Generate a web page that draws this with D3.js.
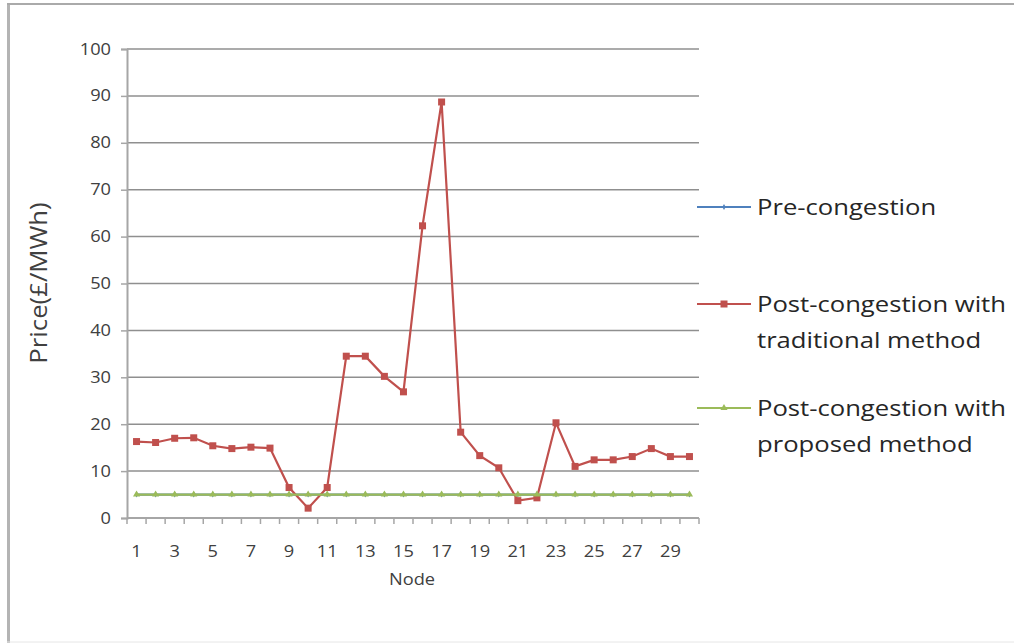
<!DOCTYPE html>
<html>
<head>
<meta charset="utf-8">
<script src="https://cdn.jsdelivr.net/npm/d3@7"></script>
<style>
  html, body { margin: 0; padding: 0; background: #fff; }
  svg { display: block; font-family: "Open Sans", "Noto Sans", sans-serif; }
</style>
</head>
<body>
<svg id="chart" width="1014" height="643"></svg>
<script>
// Nodal prices (£/MWh) for a 30-node system
const nodes = d3.range(1, 31);
const preCongestion = [5,5,5,5,5,5,5,5,5,5,5,5,5,5,5,5,5,5,5,5,5,5,5,5,5,5,5,5,5,5];
const traditional = [16.3,16.1,17.0,17.1,15.4,14.8,15.1,14.9,6.5,2.1,6.5,34.5,34.5,30.2,26.9,62.3,88.7,18.3,13.3,10.7,3.7,4.3,20.3,11.0,12.4,12.4,13.1,14.8,13.1,13.1];
const proposed = [5,5,5,5,5,5,5,5,5,5,5,5,5,5,5,5,5,5,5,5,5,5,5,5,5,5,5,5,5,5];
const yTicks = [0,10,20,30,40,50,60,70,80,90,100];
const seriesNames = ["Pre-congestion", "Post-congestion with traditional method", "Post-congestion with proposed method"];
const legendLines = [["Pre-congestion"], ["Post-congestion with", "traditional method"], ["Post-congestion with", "proposed method"]];

const svg = d3.select("#chart");
const plot = { left: 127, right: 699, top: 49, bottom: 518 };
const stretch = 1.14; // horizontal widening applied to all labels

// Outer frame
svg.append("line").attr("x1", 8.5).attr("x2", 8.5).attr("y1", 3).attr("y2", 643)
  .attr("stroke", "#b4b4b4").attr("stroke-width", 3);
svg.append("line").attr("x1", 7).attr("x2", 1014).attr("y1", 4).attr("y2", 4)
  .attr("stroke", "#aaaaaa").attr("stroke-width", 2);
svg.append("line").attr("x1", 7).attr("x2", 1014).attr("y1", 642).attr("y2", 642)
  .attr("stroke", "#e6e6e6").attr("stroke-width", 1);

const x = d3.scaleBand().domain(nodes).range([plot.left, plot.right]);
const y = d3.scaleLinear().domain([0, 100]).range([plot.bottom, plot.top]);
const cx = d => x(d) + x.bandwidth() / 2;

// Places a label at (px, py) with the horizontal widening
function label(g, px, py, txt, size, anchor, fill) {
  return g.append("text")
    .attr("transform", `translate(${px},${py}) scale(${stretch},1)`)
    .attr("text-anchor", anchor).attr("font-size", size).attr("fill", fill)
    .text(txt);
}

// Horizontal gridlines
svg.append("g").selectAll("line").data(yTicks.filter(t => t > 0)).join("line")
  .attr("x1", plot.left).attr("x2", plot.right)
  .attr("y1", d => y(d)).attr("y2", d => y(d))
  .attr("stroke", "#8f8f8f").attr("stroke-width", 1.5);

// Y axis
const yAxis = svg.append("g").attr("transform", `translate(${plot.left},0)`)
  .call(d3.axisLeft(y).tickValues(yTicks).tickSize(6).tickFormat(""));
yAxis.select(".domain").attr("stroke", "#a6a6a6").attr("stroke-width", 2);
yAxis.selectAll(".tick line").attr("stroke", "#a6a6a6").attr("stroke-width", 1.5);
const yLab = svg.append("g");
yTicks.forEach(t => label(yLab, 111, y(t) + 5.5, t, 16, "end", "#404040"));

// X axis: ticks at category boundaries, labels on odd nodes
const xAxisG = svg.append("g").attr("transform", `translate(0,${plot.bottom})`);
xAxisG.append("line").attr("x1", plot.left).attr("x2", plot.right)
  .attr("stroke", "#a6a6a6").attr("stroke-width", 2);
const bounds = nodes.map(d => x(d)).concat([plot.right]);
xAxisG.selectAll("line.tk").data(bounds).join("line").attr("class", "tk")
  .attr("x1", d => d).attr("x2", d => d).attr("y1", 0).attr("y2", 6)
  .attr("stroke", "#a6a6a6").attr("stroke-width", 1.5);
nodes.filter(d => d % 2 === 1).forEach(d => label(xAxisG, cx(d), 39, d, 16, "middle", "#404040"));

// Axis titles
svg.append("text").attr("transform", "translate(47,283) rotate(-90) scale(1.12,1)")
  .attr("text-anchor", "middle").attr("font-size", 23).attr("fill", "#404040")
  .text("Price(£/MWh)");
label(svg, 412, 585, "Node", 16, "middle", "#404040");

const colors = ["#4f81bd", "#c0504d", "#9bbb59"];
const allSeries = [preCongestion, traditional, proposed];
const line = d3.line().x((v, i) => cx(nodes[i])).y(v => y(v));

function marker(g, kind, color, px, py) {
  if (kind === 0) {
    g.append("path").attr("d", d3.symbol().type(d3.symbolDiamond).size(10)())
      .attr("transform", `translate(${px},${py})`).attr("fill", color);
  } else if (kind === 1) {
    g.append("rect").attr("x", px - 3.5).attr("y", py - 3.5).attr("width", 7).attr("height", 7)
      .attr("fill", color);
  } else {
    g.append("path").attr("d", d3.symbol().type(d3.symbolTriangle).size(22)())
      .attr("transform", `translate(${px},${py})`).attr("fill", color);
  }
}

allSeries.forEach((vals, s) => {
  const g = svg.append("g");
  g.append("path").datum(vals).attr("d", line)
    .attr("fill", "none").attr("stroke", colors[s]).attr("stroke-width", 2.2);
  vals.forEach((v, i) => marker(g, s, colors[s], cx(nodes[i]), y(v)));
});

// Legend
const legendY = [207, 304, 408];
legendLines.forEach((lines, s) => {
  const g = svg.append("g");
  g.append("line").attr("x1", 697).attr("x2", 751).attr("y1", legendY[s]).attr("y2", legendY[s])
    .attr("stroke", colors[s]).attr("stroke-width", 2);
  marker(g, s, colors[s], 724, legendY[s]);
  lines.forEach((t, k) => label(g, 757, legendY[s] + 8 + k * 36, t, 22.5, "start", "#262626"));
});
</script>
</body>
</html>
